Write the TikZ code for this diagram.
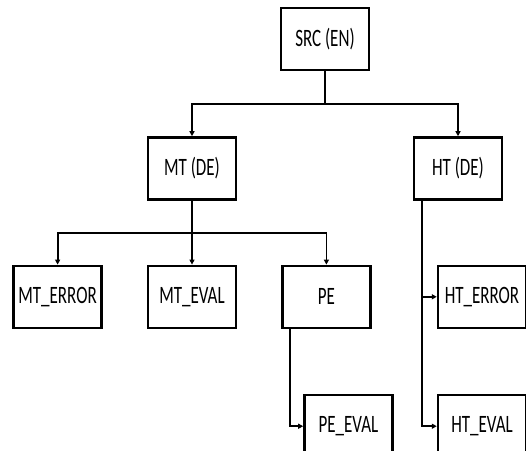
\documentclass[tikz,border=0pt]{standalone}
\usepackage{fontspec}
\setmainfont{Carlito}[FakeStretch=0.68]
\usetikzlibrary{arrows.meta,positioning}

\begin{document}
\begin{tikzpicture}[
    x=1pt, y=1pt,
    box/.style={rectangle, draw, line width=2.4pt, minimum width=88pt, minimum height=62pt,
        inner sep=0pt, font=\fontsize{25}{29}\selectfont},
    arrow/.style={-{Triangle[length=5pt,width=5pt]}, line width=1.8pt}
]
    \useasboundingbox (0,0) rectangle (526,-450);

    \node[box] (SRC) at (325,-39) {SRC (EN)};
    \node[box, below=65pt of SRC, xshift=-133pt] (MT) {MT (DE)};
    \node[box, below=65pt of SRC, xshift=133pt] (HT) {HT (DE)};
    \node[box, below=64pt of MT] (MTEVAL) {MT\_EVAL};
    \node[box, left=44pt of MTEVAL] (MTERROR) {MT\_ERROR};
    \node[box, right=44pt of MTEVAL] (PE) {PE};
    \node[box, below=65pt of PE, xshift=22pt] (PEEVAL) {PE\_EVAL};
    \node[box, below=64pt of HT, xshift=24pt] (HTERROR) {HT\_ERROR};
    \node[box, below=65pt of HTERROR] (HTEVAL) {HT\_EVAL};

    \draw[arrow] (SRC.south) -- ++(0,-32.5) -| (MT.north);
    \draw[arrow] (SRC.south) -- ++(0,-32.5) -| (HT.north);

    \draw[arrow] (MT.south) -- ++(0,-32) -| (MTERROR.north);
    \draw[arrow] (MT.south) -- (MTEVAL.north);
    \draw[arrow] (MT.south) -- ++(0,-32) -| (PE.north);

    \draw[arrow] ([xshift=9pt]PE.south west) |- (PEEVAL.west);
    \draw[arrow] ([xshift=9pt]HT.south west) |- (HTERROR.west);
    \draw[arrow] ([xshift=9pt]HT.south west) |- (HTEVAL.west);
\end{tikzpicture}
\end{document}
